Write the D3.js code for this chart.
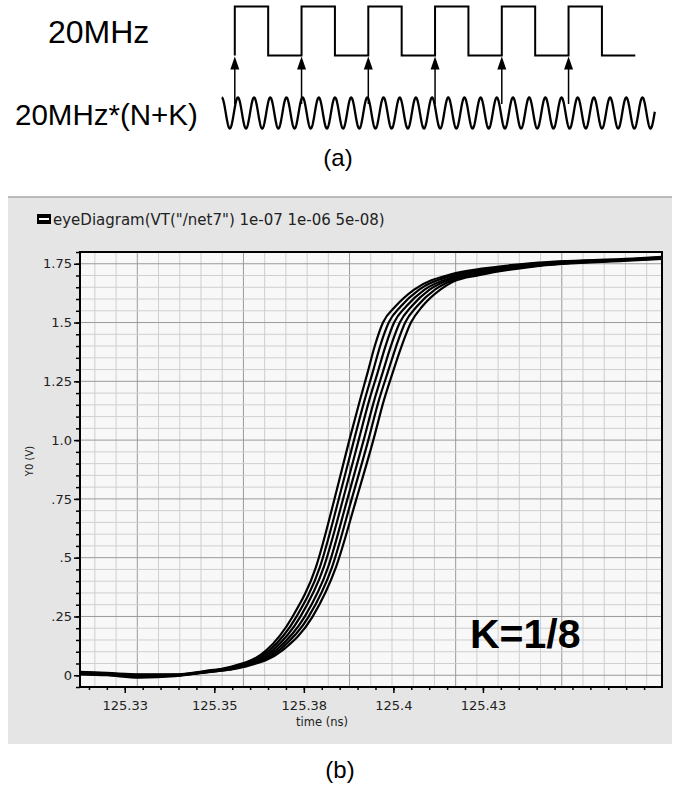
<!DOCTYPE html>
<html>
<head>
<meta charset="utf-8">
<script src="https://cdn.jsdelivr.net/npm/d3@7"></script>
<style>
  body { margin: 0; background: #fff; }
  svg { display: block; }
</style>
</head>
<body>
<svg id="chart" width="678" height="786"></svg>
<script>
// ---------- data ----------
// (a) reference clock: one rising edge per 20MHz period
const pulsePeriods = [0, 1, 2, 3, 4, 5];
const N = 4, K = 1 / 8;

// (b) eye diagram axes
const xTicks = [125.325, 125.35, 125.375, 125.4, 125.425];
const xTickLabels = ["125.33", "125.35", "125.38", "125.4", "125.43"];
const yTicks = [0, 0.25, 0.5, 0.75, 1.0, 1.25, 1.5, 1.75];
const yTickLabels = ["0", ".25", ".5", ".75", "1.0", "1.25", "1.5", "1.75"];

// overlaid eye traces, [time (ns), Y0 (V)]
const trace0 = [[125.3125,0.014],[125.3200,0.010],[125.3290,0.004],[125.3390,0.004],[125.3473,0.018],
  [125.3543,0.035],[125.3646,0.107],[125.3718,0.248],[125.3784,0.461],[125.3835,0.746],[125.3877,1.0],
  [125.3907,1.172],[125.3928,1.287],[125.3948,1.400],[125.3971,1.5],[125.4006,1.569],[125.4058,1.64],
  [125.4166,1.707],[125.4242,1.728],[125.4390,1.753],[125.4669,1.772],[125.475,1.779]];
const trace1 = [[125.3125,0.010],[125.3200,0.006],[125.3290,0.000],[125.3390,0.002],[125.3473,0.016],
  [125.3550,0.035],[125.3655,0.107],[125.3729,0.248],[125.3795,0.461],[125.3847,0.746],[125.3890,1.0],
  [125.3920,1.172],[125.3942,1.287],[125.3963,1.400],[125.3987,1.5],[125.4021,1.569],[125.4072,1.64],
  [125.4166,1.700],[125.4242,1.723],[125.4390,1.750],[125.4669,1.770],[125.475,1.777]];
const trace2 = [[125.3125,0.006],[125.3200,0.002],[125.3290,-0.006],[125.3390,-0.002],[125.3473,0.013],
  [125.3558,0.035],[125.3664,0.107],[125.3740,0.248],[125.3806,0.461],[125.3859,0.746],[125.3903,1.0],
  [125.3933,1.172],[125.3956,1.287],[125.3978,1.400],[125.4002,1.5],[125.4036,1.569],[125.4087,1.64],
  [125.4166,1.693],[125.4242,1.718],[125.4390,1.747],[125.4669,1.769],[125.475,1.776]];
const trace3 = [[125.3125,0.012],[125.3200,0.008],[125.3290,0.002],[125.3390,0.002],[125.3473,0.014],
  [125.3566,0.035],[125.3673,0.107],[125.3752,0.248],[125.3818,0.461],[125.3871,0.746],[125.3917,1.0],
  [125.3947,1.172],[125.3970,1.287],[125.3993,1.400],[125.4018,1.5],[125.4051,1.569],[125.4101,1.64],
  [125.4166,1.687],[125.4242,1.712],[125.4390,1.743],[125.4669,1.767],[125.475,1.774]];
const trace4 = [[125.3125,0.004],[125.3200,0.000],[125.3290,-0.010],[125.3390,-0.004],[125.3473,0.011],
  [125.3574,0.035],[125.3682,0.107],[125.3763,0.248],[125.3829,0.461],[125.3883,0.746],[125.3930,1.0],
  [125.3960,1.172],[125.3984,1.287],[125.4008,1.400],[125.4033,1.5],[125.4066,1.569],[125.4116,1.64],
  [125.4166,1.680],[125.4242,1.707],[125.4390,1.740],[125.4669,1.766],[125.475,1.773]];
const trace5 = [[125.3125,0.008],[125.3200,0.004],[125.3290,-0.004],[125.3390,0.000],[125.3473,0.012],
  [125.3582,0.035],[125.3691,0.107],[125.3774,0.248],[125.3840,0.461],[125.3896,0.746],[125.3944,1.0],
  [125.3974,1.172],[125.3998,1.287],[125.4023,1.400],[125.4049,1.5],[125.4081,1.569],[125.4131,1.64],
  [125.4166,1.673],[125.4242,1.702],[125.4390,1.738],[125.4669,1.764],[125.475,1.771]];
const traces = [trace0, trace1, trace2, trace3, trace4, trace5];

// ---------- setup ----------
const svg = d3.select("#chart");
const sans = "'Liberation Sans', Arial, sans-serif";
const ui = "'DejaVu Sans', sans-serif";

// ---------- (a) clock diagram ----------
const xa = d3.scaleLinear().domain([0, 6]).range([234.8, 635.3]);
const hiY = 6.5, loY = 55.5;
const sineMid = 113, sineAmp = 15.5;

const gA = svg.append("g");

gA.append("text").attr("x", 48).attr("y", 43)
  .attr("font-family", sans).attr("font-size", 32).text("20MHz");
gA.append("text").attr("x", 15).attr("y", 125)
  .attr("font-family", sans).attr("font-size", 29.5).text("20MHz*(N+K)");

// square wave
const sq = [];
pulsePeriods.forEach(p => {
  sq.push([xa(p), loY], [xa(p), hiY], [xa(p + 0.5), hiY], [xa(p + 0.5), loY]);
});
sq.push([xa(6), loY]);
gA.append("path").attr("d", d3.line()(sq))
  .attr("fill", "none").attr("stroke", "#000").attr("stroke-width", 2);

// high-frequency sine (N+K cycles per reference period)
const sinePts = d3.range(-0.196, 6.296, 0.004).map(u =>
  [xa(u), sineMid - sineAmp * Math.cos(2 * Math.PI * (N + K) * (u + 0.196))]);
gA.append("path").attr("d", d3.line()(sinePts))
  .attr("fill", "none").attr("stroke", "#000").attr("stroke-width", 2.3);

// sampling arrows
pulsePeriods.forEach(p => {
  const x = xa(p);
  gA.append("line").attr("x1", x).attr("x2", x).attr("y1", 104).attr("y2", 66)
    .attr("stroke", "#000").attr("stroke-width", 1.5);
  gA.append("path").attr("d", `M${x},${loY + 1}L${x - 4.5},${loY + 14}L${x + 4.5},${loY + 14}Z`)
    .attr("fill", "#000");
});

gA.append("text").attr("x", 338).attr("y", 166).attr("text-anchor", "middle")
  .attr("font-family", sans).attr("font-size", 24).text("(a)");

// ---------- (b) eye diagram ----------
const panel = { x0: 8, y0: 197, x1: 672, y1: 744 };
svg.append("rect").attr("x", panel.x0).attr("y", panel.y0)
  .attr("width", panel.x1 - panel.x0).attr("height", panel.y1 - panel.y0)
  .attr("fill", "#e5e5e5");
svg.append("line").attr("x1", panel.x0).attr("x2", panel.x1)
  .attr("y1", panel.y0).attr("y2", panel.y0).attr("stroke", "#a8a8a8").attr("stroke-width", 1.5);

// header / legend entry
svg.append("rect").attr("x", 37).attr("y", 214).attr("width", 14).attr("height", 10).attr("fill", "#000");
svg.append("line").attr("x1", 39).attr("x2", 49).attr("y1", 219).attr("y2", 219)
  .attr("stroke", "#fff").attr("stroke-width", 2);
svg.append("text").attr("x", 53).attr("y", 224.5)
  .attr("font-family", ui).attr("font-size", 15).attr("fill", "#222")
  .text('eyeDiagram(VT("/net7") 1e-07 1e-06 5e-08)');

const plot = { left: 80, top: 252, right: 662, bottom: 687 };
const x = d3.scaleLinear().domain([125.3125, 125.475]).range([plot.left, plot.right]);
const y = d3.scaleLinear().domain([-0.05, 1.80]).range([plot.bottom, plot.top]);

svg.append("rect").attr("x", plot.left).attr("y", plot.top)
  .attr("width", plot.right - plot.left).attr("height", plot.bottom - plot.top)
  .attr("fill", "#f8f8f8");

svg.append("clipPath").attr("id", "clip").append("rect")
  .attr("x", plot.left).attr("y", plot.top)
  .attr("width", plot.right - plot.left).attr("height", plot.bottom - plot.top);

// grid (the viewer grid is not locked to the tick labels horizontally)
const gridX0 = 125.3285, gridXStep = 0.005926;
const gGrid = svg.append("g").attr("clip-path", "url(#clip)");
const vMinor = d3.range(-3, 26).map(i => gridX0 + i * gridXStep);
gGrid.selectAll("line.vg").data(vMinor).join("line")
  .attr("x1", d => x(d)).attr("x2", d => x(d))
  .attr("y1", plot.top).attr("y2", plot.bottom)
  .attr("stroke", (d, i) => (i - 3) % 5 === 0 ? "#9a9a9a" : "#cfcfcf")
  .attr("stroke-width", 1);
const hMinor = d3.range(-1, 37).map(i => i * 0.05);
gGrid.selectAll("line.hg").data(hMinor).join("line")
  .attr("x1", plot.left).attr("x2", plot.right)
  .attr("y1", d => y(d)).attr("y2", d => y(d))
  .attr("stroke", (d, i) => (i - 1) % 5 === 0 ? "#9a9a9a" : "#cfcfcf")
  .attr("stroke-width", 1);

// traces
const line = d3.line().x(d => x(d[0])).y(d => y(d[1])).curve(d3.curveMonotoneX);
svg.append("g").attr("clip-path", "url(#clip)")
  .selectAll("path").data(traces).join("path")
  .attr("d", line)
  .attr("fill", "none").attr("stroke", "#000").attr("stroke-width", 2.2);

// frame
svg.append("rect").attr("x", plot.left).attr("y", plot.top)
  .attr("width", plot.right - plot.left).attr("height", plot.bottom - plot.top)
  .attr("fill", "none").attr("stroke", "#000").attr("stroke-width", 2);

// axes
const xAxis = d3.axisBottom(x).tickValues(xTicks).tickSize(6).tickPadding(8)
  .tickFormat((d, i) => xTickLabels[i]);
const xMinor = d3.axisBottom(x).tickSize(3).tickFormat("")
  .tickValues(d3.range(-2, 30).map(i => 125.325 + i * 0.005).filter(v => v > 125.313 && v < 125.474));
const yAxis = d3.axisLeft(y).tickValues(yTicks).tickSize(6).tickPadding(2)
  .tickFormat((d, i) => yTickLabels[i]);
const yMinor = d3.axisLeft(y).tickSize(4).tickFormat("")
  .tickValues(d3.range(-1, 37).map(i => i * 0.05));

function styleAxis(g) {
  g.select(".domain").remove();
  g.selectAll("line").attr("stroke", "#000").attr("stroke-width", 1.5);
  g.selectAll("text").attr("font-family", ui).attr("font-size", 13).attr("fill", "#222");
}
svg.append("g").attr("transform", `translate(0,${plot.bottom})`).call(xMinor).call(styleAxis);
svg.append("g").attr("transform", `translate(0,${plot.bottom})`).call(xAxis).call(styleAxis);
svg.append("g").attr("transform", `translate(${plot.left},0)`).call(yMinor).call(styleAxis);
svg.append("g").attr("transform", `translate(${plot.left},0)`).call(yAxis).call(styleAxis);

svg.append("text").attr("x", 322).attr("y", 726).attr("text-anchor", "middle")
  .attr("font-family", ui).attr("font-size", 11.5).attr("fill", "#222").text("time (ns)");
svg.append("text").attr("transform", "translate(33,461) rotate(-90)").attr("text-anchor", "middle")
  .attr("font-family", ui).attr("font-size", 10).attr("fill", "#222").text("Y0 (V)");

svg.append("text").attr("x", 470).attr("y", 648)
  .attr("font-family", sans).attr("font-size", 41).attr("font-weight", "bold").text("K=1/8");

svg.append("text").attr("x", 340).attr("y", 778).attr("text-anchor", "middle")
  .attr("font-family", sans).attr("font-size", 24).text("(b)");
</script>
</body>
</html>
